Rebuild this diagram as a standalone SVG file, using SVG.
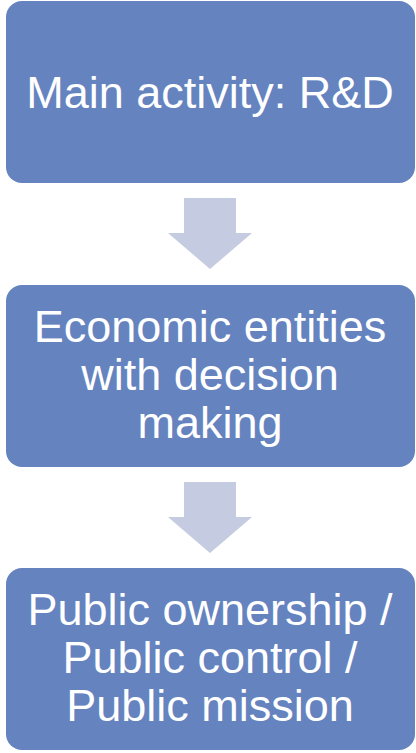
<svg xmlns="http://www.w3.org/2000/svg" width="416" height="753" viewBox="0 0 416 753">
  <style>
    .box { fill: #6583bf; }
    .lbl { font-family: "Liberation Sans", Arial, sans-serif; font-size: 45px; fill: #ffffff; text-anchor: middle; }
    .arrow { fill: #c5cbe0; }
  </style>
  <defs>
    <!-- block arrow pointing down, origin at shaft top centre -->
    <polygon id="down-arrow" points="-26,0 26,0 26,35 42,35 0,71 -42,35 -26,35"/>
  </defs>

  <rect width="416" height="753" fill="#ffffff"/>

  <g id="connectors">
    <use href="#down-arrow" class="arrow" x="210" y="198"/>
    <use href="#down-arrow" class="arrow" x="210" y="482"/>
  </g>

  <g id="node-rd">
    <rect class="box" x="6" y="1" width="409" height="182" rx="16"/>
    <text class="lbl" x="210" y="108">Main activity: R&amp;D</text>
  </g>

  <g id="node-entities">
    <rect class="box" x="6" y="285" width="409" height="182" rx="16"/>
    <text class="lbl" x="210" y="342">Economic entities</text>
    <text class="lbl" x="210" y="390">with decision</text>
    <text class="lbl" x="210" y="438">making</text>
  </g>

  <g id="node-public">
    <rect class="box" x="6" y="568" width="409" height="182" rx="16"/>
    <text class="lbl" x="210" y="625">Public ownership /</text>
    <text class="lbl" x="210" y="673">Public control /</text>
    <text class="lbl" x="210" y="721">Public mission</text>
  </g>
</svg>
